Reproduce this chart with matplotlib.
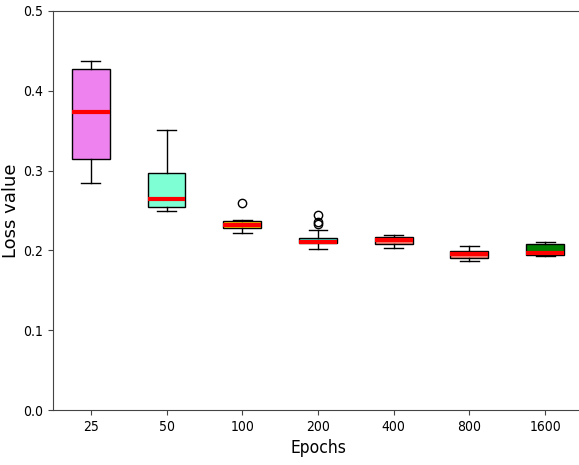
import matplotlib
matplotlib.use("Agg")
import matplotlib.pyplot as plt
from matplotlib import font_manager

epochs = ["25", "50", "100", "200", "400", "800", "1600"]
whislo = [0.285, 0.249, 0.222, 0.202, 0.203, 0.187, 0.193]
q1 = [0.315, 0.254, 0.228, 0.209, 0.208, 0.191, 0.194]
med = [0.373, 0.264, 0.232, 0.211, 0.213, 0.195, 0.197]
q3 = [0.427, 0.297, 0.237, 0.216, 0.217, 0.199, 0.208]
whishi = [0.437, 0.351, 0.238, 0.225, 0.219, 0.206, 0.210]
fliers = [[], [], [0.260], [0.233, 0.236, 0.244], [], [], []]
box_colors = ["violet", "aquamarine", "gold", "turquoise", "salmon", "salmon", "green"]

# condensed face for tick labels and the x label
cond = font_manager.FontProperties(family="DejaVu Sans", stretch="condensed", size=10)

stats = []
for i, lab in enumerate(epochs):
    stats.append(dict(label=lab, whislo=whislo[i], q1=q1[i], med=med[i],
                      q3=q3[i], whishi=whishi[i], fliers=fliers[i]))

fig = plt.figure(figsize=(5.79, 4.65), dpi=100)
ax = fig.add_axes([53 / 579, 1 - 410 / 465, 530 / 579, 399 / 465])

bp = ax.bxp(stats, patch_artist=True, widths=0.5,
            medianprops=dict(color="red", linewidth=3),
            boxprops=dict(edgecolor="black", linewidth=1),
            whiskerprops=dict(color="black"),
            capprops=dict(color="black"),
            flierprops=dict(marker="o", markerfacecolor="none",
                            markeredgecolor="black", markersize=6))
for patch, c in zip(bp["boxes"], box_colors):
    patch.set_facecolor(c)

ax.set_xlim(0.5, 7.5)
ax.set_ylim(0, 0.5)
ax.set_yticks([0.0, 0.1, 0.2, 0.3, 0.4, 0.5])
ax.set_yticklabels(["0.0", "0.1", "0.2", "0.3", "0.4", "0.5"], fontproperties=cond)
ax.set_xticklabels(epochs, fontproperties=cond)
ax.tick_params(axis="both", colors="#444444", labelcolor="black")
ax.set_xlabel("Epochs", family="DejaVu Sans", stretch="condensed", fontsize=12.5)
ax.set_ylabel("Loss value", fontsize=13)
ax.yaxis.set_label_coords(-0.063, 0.5)
ax.spines["right"].set_visible(False)
for s in ["left", "bottom", "top"]:
    ax.spines[s].set_color("#444444")

fig.savefig("out.png", dpi=100)
